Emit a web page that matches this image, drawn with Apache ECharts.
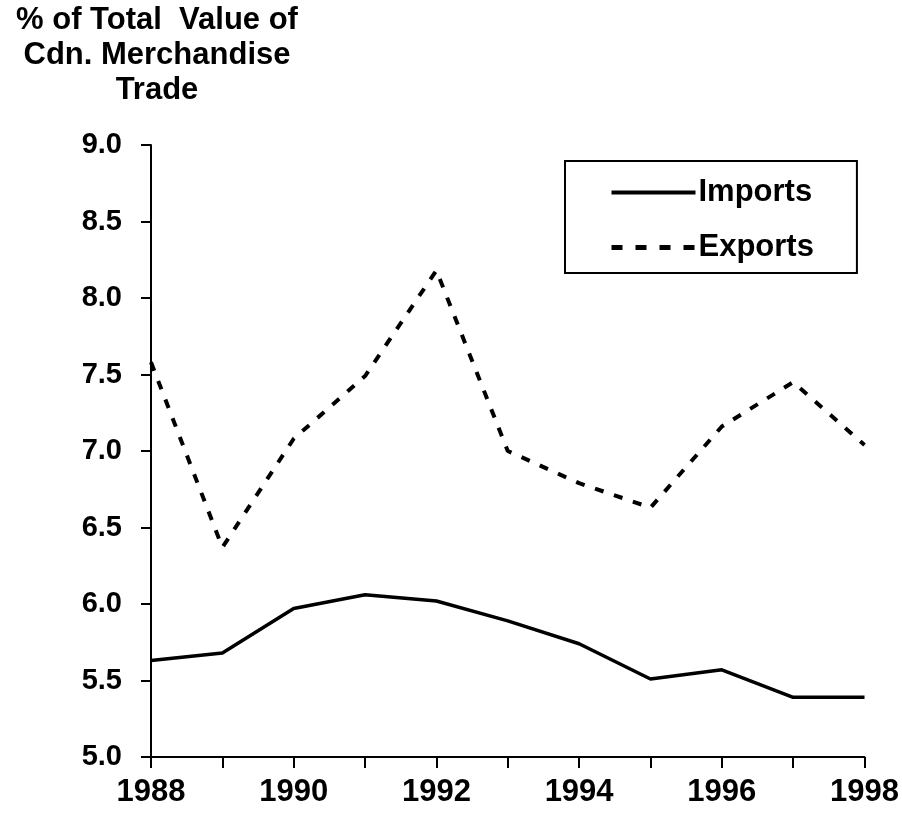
<!DOCTYPE html>
<html>
<head>
<meta charset="utf-8">
<script src="https://cdn.jsdelivr.net/npm/echarts@6/dist/echarts.min.js"></script>
<style>
  html, body { margin: 0; padding: 0; background: #fff; }
  #main { width: 902px; height: 823px; }
</style>
</head>
<body>
<div id="main"></div>
<script>
// data
const years = ['1988', '1989', '1990', '1991', '1992', '1993', '1994', '1995', '1996', '1997', '1998'];
const imports = [5.63, 5.68, 5.97, 6.06, 6.02, 5.89, 5.74, 5.51, 5.57, 5.39, 5.39];
const exports = [7.58, 6.37, 7.08, 7.49, 8.18, 7.00, 6.79, 6.63, 7.16, 7.45, 7.04];
const titleLines = ['% of Total  Value of', 'Cdn. Merchandise', 'Trade'];

const FONT = 'Liberation Sans, Arial, sans-serif';

let myChart = echarts.init(document.getElementById('main'));
myChart.setOption({
  backgroundColor: '#fff',
  animation: false,
  title: {
    text: titleLines.join('\n'),
    left: 152,
    top: -2,
    textAlign: 'center',
    textStyle: {
      fontFamily: FONT,
      fontWeight: 'bold',
      fontSize: 31,
      lineHeight: 35,
      color: '#000'
    }
  },
  legend: {
    orient: 'vertical',
    left: 565,
    top: 161,
    width: 293,
    padding: [16, 43, 10, 44],
    itemWidth: 84,
    itemHeight: 22,
    itemGap: 24,
    borderColor: '#000',
    borderWidth: 2,
    itemStyle: { opacity: 0 },
    lineStyle: { width: 4 },
    textStyle: {
      fontFamily: FONT,
      fontWeight: 'bold',
      fontSize: 31,
      color: '#000',
      padding: [0, 0, 0, -2]
    },
    data: [
      { name: 'Imports', lineStyle: { width: 4, type: 'solid' } },
      { name: 'Exports', lineStyle: { width: 5, type: [11, 13] } }
    ]
  },
  grid: {
    left: 151,
    right: 35,
    top: 145,
    bottom: 66,
    containLabel: false
  },
  xAxis: {
    type: 'category',
    data: years,
    boundaryGap: false,
    axisLine: { lineStyle: { color: '#000', width: 2 } },
    axisTick: { show: true, interval: 0, length: 11, lineStyle: { color: '#000', width: 2 } },
    axisLabel: {
      interval: 1,
      margin: 20,
      fontFamily: FONT,
      fontWeight: 'bold',
      fontSize: 31,
      color: '#000'
    },
    splitLine: { show: false }
  },
  yAxis: {
    type: 'value',
    min: 5,
    max: 9,
    interval: 0.5,
    axisLine: { show: true, lineStyle: { color: '#000', width: 2 } },
    axisTick: { show: true, length: 10, lineStyle: { color: '#000', width: 2 } },
    axisLabel: {
      margin: 29,
      fontFamily: FONT,
      fontWeight: 'bold',
      fontSize: 29,
      color: '#000',
      formatter: v => v.toFixed(1)
    },
    splitLine: { show: false }
  },
  series: [
    {
      name: 'Imports',
      type: 'line',
      data: imports,
      symbol: 'none',
      lineStyle: { color: '#000', width: 3.5, type: 'solid' },
      itemStyle: { color: '#000' }
    },
    {
      name: 'Exports',
      type: 'line',
      data: exports,
      symbol: 'none',
      lineStyle: { color: '#000', width: 4, type: [9, 11] },
      itemStyle: { color: '#000' }
    }
  ]
});
</script>
</body>
</html>
